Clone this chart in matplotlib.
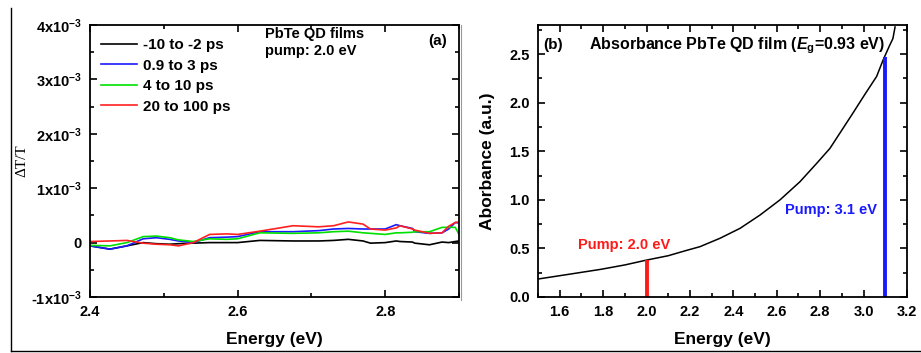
import numpy as np
import matplotlib
matplotlib.use("Agg")
import matplotlib.pyplot as plt
from matplotlib.lines import Line2D
from matplotlib.ticker import MultipleLocator, FixedLocator, FuncFormatter

plt.rcParams['font.family'] = ['Liberation Sans', 'DejaVu Sans']
plt.rcParams['font.weight'] = 'bold'
plt.rcParams['mathtext.fontset'] = 'custom'
plt.rcParams['mathtext.rm'] = 'Liberation Sans:bold'
plt.rcParams['mathtext.it'] = 'Liberation Sans:bold:italic'
plt.rcParams['mathtext.bf'] = 'Liberation Sans:bold'

# ---- Panel (a) data: dT/T in units of 1e-4 ----
energy_a = [2.40, 2.427, 2.45, 2.472, 2.49, 2.508, 2.52, 2.54, 2.562, 2.585, 2.60,
            2.63, 2.675, 2.71, 2.73, 2.75, 2.77, 2.78, 2.80, 2.815, 2.82, 2.837,
            2.84, 2.86, 2.877, 2.886, 2.895, 2.90]
red_a = [0.2, 0.3, 0.4, -0.1, -0.3, -0.4, -0.6, 0.0, 1.5, 1.6, 1.5,
         2.1, 3.1, 2.9, 3.1, 3.8, 3.4, 2.5, 2.3, 2.7, 3.1, 2.5,
         2.3, 1.7, 1.8, 3.0, 3.7, 3.8]
blue_a = [-0.6, -1.2, -0.6, 0.7, 0.9, 0.6, 0.3, 0.0, 0.9, 1.0, 1.1,
          2.0, 2.0, 2.2, 2.5, 2.6, 2.5, 2.5, 2.5, 3.3, 3.1, 2.6,
          2.0, 1.7, 1.8, 2.5, 3.7, 3.6]
green_a = [-0.5, -0.6, 0.0, 1.1, 1.2, 0.9, 0.5, 0.2, 0.7, 0.6, 0.7,
           1.8, 1.7, 1.8, 2.0, 2.1, 1.8, 1.7, 1.5, 1.8, 1.8, 1.9,
           2.0, 2.0, 2.8, 2.8, 2.8, 1.5]
black_a = [-0.6, -1.2, -0.6, 0.0, -0.2, -0.3, -0.2, -0.1, 0.0, 0.0, 0.0,
           0.4, 0.3, 0.3, 0.4, 0.6, 0.3, -0.1, 0.0, 0.3, 0.2, 0.1,
           -0.1, -0.4, 0.1, 0.0, 0.2, 0.3]
labels_a = ['-10 to -2 ps', '0.9 to 3 ps', '4 to 10 ps', '20 to 100 ps']
colors_a = ['black', '#1a1aff', '#00e000', '#ff2020']

# ---- Panel (b) data: absorbance ----
energy_b = [1.50, 1.64, 1.79, 1.90, 2.00, 2.10, 2.18, 2.246, 2.338, 2.431, 2.523,
            2.615, 2.707, 2.784, 2.845, 2.88, 2.95, 3.01, 3.06, 3.09, 3.12, 3.135, 3.145]
absorb_b = [0.185, 0.233, 0.285, 0.33, 0.38, 0.425, 0.477, 0.518, 0.604, 0.707, 0.844,
            1.00, 1.187, 1.376, 1.53, 1.65, 1.89, 2.10, 2.27, 2.44, 2.59, 2.66, 2.78]
pump_energies = [2.0, 3.1]
pump_heights = [0.38, 2.47]
pump_colors = ['#ff1a1a', '#1a1aff']

fig = plt.figure(figsize=(9.21, 3.53), dpi=100)
W, H = 921, 353
ax1 = fig.add_axes([90 / W, 1 - 297 / H, (459 - 90) / W, (297 - 25) / H])
ax2 = fig.add_axes([538 / W, 1 - 297 / H, (907 - 538) / W, (297 - 25) / H])

scale = 1e-4
series = [black_a, blue_a, green_a, red_a]
for vals, c, lab in zip(series, colors_a, labels_a):
    ax1.plot(energy_a, np.array(vals) * scale, color=c, lw=1.2, label=lab)

ax1.set_xlim(2.4, 2.9)
ax1.set_ylim(-1e-3, 4e-3)
ax1.xaxis.set_major_locator(FixedLocator([2.4, 2.6, 2.8]))
ax1.xaxis.set_minor_locator(FixedLocator([2.5, 2.7, 2.9]))
ax1.yaxis.set_major_locator(MultipleLocator(1e-3))
ax1.yaxis.set_minor_locator(MultipleLocator(5e-4))

def yfmt(v, pos):
    n = int(round(v / 1e-3))
    if n == 0:
        return '0'
    return r'%dx10$^{\mathregular{-3}}$' % n
ax1.yaxis.set_major_formatter(FuncFormatter(yfmt))
ax1.xaxis.set_major_formatter(FuncFormatter(lambda v, p: '%.1f' % v))
ax1.set_xlabel('Energy (eV)', fontsize=12.5, fontweight='bold', labelpad=9)
ax1.set_ylabel('ΔT/T', fontsize=11, fontweight='normal', family='Liberation Serif', labelpad=2)
leg = ax1.legend(loc='upper left', bbox_to_anchor=(0.0, 0.99), frameon=False,
                 fontsize=11, handlelength=2.4, handletextpad=0.35,
                 labelspacing=0.42, borderaxespad=0.3)
ax1.text(2.637, 3.68e-3, 'PbTe QD films\npump: 2.0 eV', fontsize=10.5,
         fontweight='bold', va='center', linespacing=1.3)
ax1.text(2.884, 3.7e-3, '(a)', fontsize=11, fontweight='bold', ha='right', va='center')

ax2.plot(energy_b, absorb_b, color='black', lw=1.1)
for e, h, c in zip(pump_energies, pump_heights, pump_colors):
    ax2.vlines(e, 0, h, color=c, lw=2.8)
ax2.set_xlim(1.5, 3.2)
ax2.set_ylim(0, 2.8)
ax2.xaxis.set_major_locator(MultipleLocator(0.2))
ax2.xaxis.set_minor_locator(MultipleLocator(0.1))
ax2.yaxis.set_major_locator(MultipleLocator(0.5))
ax2.yaxis.set_minor_locator(MultipleLocator(0.25))
ax2.xaxis.set_major_formatter(FuncFormatter(lambda v, p: '%.1f' % v))
ax2.yaxis.set_major_formatter(FuncFormatter(lambda v, p: '%.1f' % v))
ax2.set_xlabel('Energy (eV)', fontsize=12.5, fontweight='bold', labelpad=9)
ax2.set_ylabel('Aborbance (a.u.)', fontsize=12.5, fontweight='bold', labelpad=10)
ax2.text(1.523, 2.59, '(b)', fontsize=11, fontweight='bold', va='center')
ax2.text(1.736, 2.59, r'Absorbance PbTe QD film ($E_{\mathregular{g}}$=0.93 eV)',
         fontsize=11.5, fontweight='bold', va='center')
ax2.text(2.111, 0.54, 'Pump: 2.0 eV', color='#ff1a1a', fontsize=10.5,
         fontweight='bold', ha='right', va='center')
ax2.text(3.063, 0.90, 'Pump: 3.1 eV', color='#1a1aff', fontsize=10.5,
         fontweight='bold', ha='right', va='center')

for ax in (ax1, ax2):
    for s in ax.spines.values():
        s.set_linewidth(1.3)
    ax.tick_params(which='both', direction='in', top=True, right=True, width=1.2)
    ax.tick_params(which='major', length=5, labelsize=10.5, pad=6)
    ax.tick_params(which='minor', length=3)
    for t in ax.get_xticklabels() + ax.get_yticklabels():
        t.set_fontweight('bold')

# figure border lines
fig.add_artist(Line2D([11 / W, 11 / W], [1 - 8 / H, 1 - 351 / H], color='black', lw=1.0))
fig.add_artist(Line2D([11 / W, 1.0], [1 - 351 / H, 1 - 351 / H], color='black', lw=1.0))
fig.add_artist(Line2D([461 / W, 461 / W], [1 - 25 / H, 1 - 300 / H], color='#999999', lw=0.8))

fig.savefig('out.png', dpi=100)
